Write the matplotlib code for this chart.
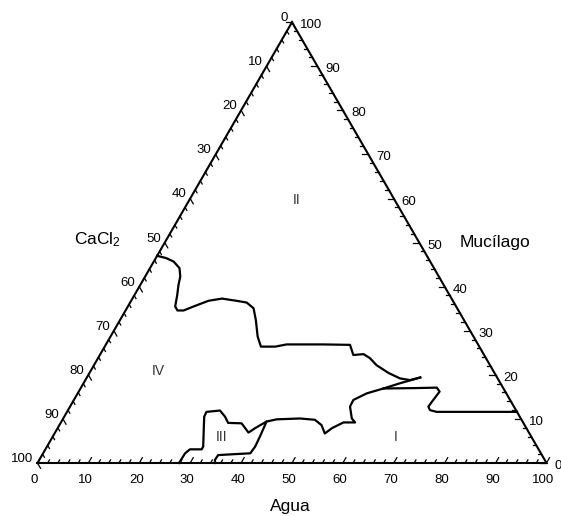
import matplotlib
matplotlib.use("Agg")
import matplotlib.pyplot as plt
import numpy as np

plt.rcParams['font.family'] = ['Liberation Sans', 'DejaVu Sans']
plt.rcParams['mathtext.default'] = 'regular'

# phase boundaries as (Agua, Mucilago) in %
agua_A = [0, 2.0, 3.9, 5.8, 6.9, 7.5, 8.4, 9.3, 10.2, 11.4, 12.9, 15.2, 17.6, 20.7, 22.9,
          24.9, 26.7, 28.9, 30.7, 33.5, 35.5, 42.7, 48.0, 49.8, 51.7, 53.4, 55.5, 58.8,
          61.6, 63.8, 65.5]
muc_A = [47.0, 46.5, 45.7, 44.2, 42.3, 40.4, 38.1, 35.5, 34.6, 34.6, 35.5, 36.8, 37.3, 36.8,
         36.4, 35.1, 32.4, 28.7, 26.4, 26.4, 26.9, 26.9, 26.8, 24.5, 24.7, 23.8, 22.2, 20.4,
         19.2, 18.8, 19.4]

agua_B = [65.5, 62.2, 59.5, 56.8, 54.9, 55.0, 56.7, 57.8, 55.5, 53.9, 53.1, 51.5, 49.6,
          46.5, 42.0, 40.3, 40.7, 40.9, 40.7, 34.6, 34.5, 34.9]
muc_B = [19.4, 18.1, 16.9, 15.8, 14.3, 12.8, 10.1, 9.2, 9.2, 7.9, 6.7, 8.6, 9.8,
         10.1, 9.9, 9.4, 6.0, 3.7, 2.2, 1.8, 0.7, 0.0]

agua_C = [59.5, 66.0, 69.9, 70.9, 70.6, 70.4, 71.1, 72.6, 88.4]
muc_C = [16.9, 17.0, 17.1, 16.2, 14.3, 12.8, 12.0, 11.6, 11.6]

agua_D = [27.8, 27.9, 28.4, 30.7, 30.7, 27.5, 27.4, 29.9, 31.6, 32.9, 35.6, 38.0, 38.8, 40.3]
muc_D = [0.0, 2.2, 3.1, 3.1, 3.7, 10.5, 11.6, 11.9, 10.5, 9.1, 9.0, 6.9, 7.9, 9.4]

tick_vals = list(range(0, 101, 2))
label_vals = list(range(0, 101, 10))

H = np.sqrt(3) / 2


def tern(agua, muc):
    # CaCl2 corner at origin, Agua corner at (100, 0), Mucilago corner on top
    agua = np.asarray(agua, dtype=float)
    muc = np.asarray(muc, dtype=float)
    return agua + 0.5 * muc, H * muc


fig = plt.figure(figsize=(5.61, 5.16), dpi=100)
ax = fig.add_axes([0, 0, 1, 1])
ax.set_xlim(-7.367, 102.85)
ax.set_ylim(-10.41, 90.96)
ax.set_aspect('equal')
ax.axis('off')

# triangle
tx, ty = tern([0, 100, 0, 0], [0, 0, 100, 0])
ax.plot(tx, ty, color='black', lw=1.5, solid_joinstyle='miter')

# ticks, pointing inward along the grid directions
for t in tick_vals:
    L = 1.2 if t % 10 == 0 else 0.7
    x0, y0 = tern(t, 0)
    ax.plot([x0, x0 + 0.5 * L], [y0, y0 + H * L], color='black', lw=0.9)
    x0, y0 = tern(0, 100 - t)
    ax.plot([x0, x0 + 0.5 * L], [y0, y0 - H * L], color='black', lw=0.9)
    x0, y0 = tern(100 - t, t)
    ax.plot([x0, x0 - L], [y0, y0], color='black', lw=0.9)

# tick labels
for t in label_vals:
    x0, y0 = tern(t, 0)
    ax.annotate(str(t), (x0, y0), xytext=(-2.2, -12.6), textcoords='offset points',
                ha='center', va='center', fontsize=9.5)
    x0, y0 = tern(0, 100 - t)
    ax.annotate(str(t), (x0, y0), xytext=(-2.9, 2.9), textcoords='offset points',
                ha='right', va='center', fontsize=9.5)
    x0, y0 = tern(100 - t, t)
    ax.annotate(str(t), (x0, y0), xytext=(5.8, -2.2), textcoords='offset points',
                ha='left', va='center', fontsize=9.5)

# axis titles
ax.text(49.6, -8.6, 'Agua', ha='center', va='center', fontsize=12.5)
ax.text(11.8, 43.8, 'CaCl$_2$', ha='center', va='center', fontsize=12.5)
ax.text(89.9, 43.3, 'Mucílago', ha='center', va='center', fontsize=12.5)

# boundaries
for a, m in [(agua_A, muc_A), (agua_B, muc_B), (agua_C, muc_C), (agua_D, muc_D)]:
    cx, cy = tern(a, m)
    ax.plot(cx, cy, color='black', lw=1.6)

# region labels
for txt, x, y in [('II', 51.0, 51.7), ('IV', 23.7, 18.1), ('III', 36.2, 5.2), ('I', 70.4, 5.2)]:
    ax.text(x, y, txt, ha='center', va='center', fontsize=10, color='#333333')

fig.savefig('out.png', dpi=100)
